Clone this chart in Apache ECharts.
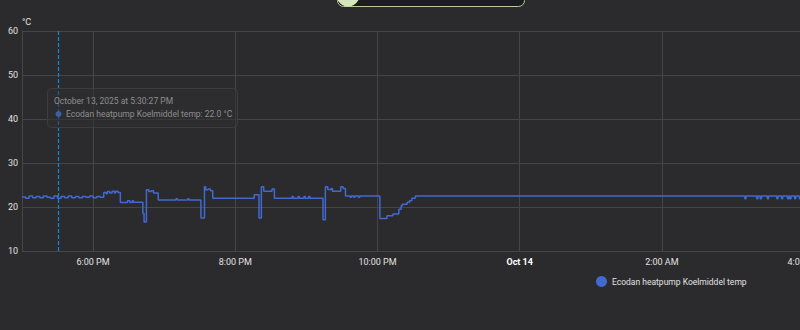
<!DOCTYPE html>
<html>
<head>
<meta charset="utf-8">
<style>
  html, body { margin: 0; padding: 0; background: #2b2b2d; }
  #c { width: 800px; height: 330px; }
</style>
<script src="https://cdn.jsdelivr.net/npm/echarts@6/dist/echarts.min.js"></script>
</head>
<body>
<div id="c"></div>
<script>
// ---- data ----
const seriesName = 'Ecodan heatpump Koelmiddel temp';
const unit = '°C';

const times = [
  '2025-10-13 17:00','2025-10-13 17:03','2025-10-13 17:06','2025-10-13 17:09','2025-10-13 17:12',
  '2025-10-13 17:15','2025-10-13 17:18','2025-10-13 17:21','2025-10-13 17:24','2025-10-13 17:27',
  '2025-10-13 17:30','2025-10-13 17:33','2025-10-13 17:36','2025-10-13 17:39','2025-10-13 17:42',
  '2025-10-13 17:45','2025-10-13 17:48','2025-10-13 17:51','2025-10-13 17:54','2025-10-13 17:57',
  '2025-10-13 18:00','2025-10-13 18:03','2025-10-13 18:06','2025-10-13 18:09','2025-10-13 18:11',
  '2025-10-13 18:12','2025-10-13 18:14','2025-10-13 18:16','2025-10-13 18:18','2025-10-13 18:19',
  '2025-10-13 18:21','2025-10-13 18:23','2025-10-13 18:29','2025-10-13 18:31','2025-10-13 18:33',
  '2025-10-13 18:34','2025-10-13 18:42','2025-10-13 18:43','2025-10-13 18:45','2025-10-13 18:47',
  '2025-10-13 18:49','2025-10-13 18:51','2025-10-13 18:55','2025-10-13 19:10','2025-10-13 19:11',
  '2025-10-13 19:20','2025-10-13 19:21','2025-10-13 19:31','2025-10-13 19:34','2025-10-13 19:35',
  '2025-10-13 19:37','2025-10-13 19:39','2025-10-13 19:41','2025-10-13 20:16','2025-10-13 20:20',
  '2025-10-13 20:22','2025-10-13 20:24','2025-10-13 20:31','2025-10-13 20:33','2025-10-13 20:48',
  '2025-10-13 20:49','2025-10-13 20:53','2025-10-13 20:54','2025-10-13 20:58','2025-10-13 20:59',
  '2025-10-13 21:02','2025-10-13 21:03','2025-10-13 21:14','2025-10-13 21:16','2025-10-13 21:18',
  '2025-10-13 21:21','2025-10-13 21:22','2025-10-13 21:29','2025-10-13 21:31','2025-10-13 21:33',
  '2025-10-13 21:37','2025-10-13 21:38','2025-10-13 21:40','2025-10-13 21:41','2025-10-13 21:44',
  '2025-10-13 21:45','2025-10-13 22:02','2025-10-13 22:08','2025-10-13 22:13','2025-10-13 22:18',
  '2025-10-13 22:20','2025-10-13 22:21','2025-10-13 22:25','2025-10-13 22:27','2025-10-13 22:29',
  '2025-10-13 22:32','2025-10-14 03:10','2025-10-14 03:11','2025-10-14 03:20','2025-10-14 03:21',
  '2025-10-14 03:23','2025-10-14 03:24','2025-10-14 03:29','2025-10-14 03:30','2025-10-14 03:37',
  '2025-10-14 03:38','2025-10-14 03:41','2025-10-14 03:42','2025-10-14 03:46','2025-10-14 03:47',
  '2025-10-14 03:48','2025-10-14 03:49','2025-10-14 03:52','2025-10-14 03:53','2025-10-14 03:56',
  '2025-10-14 03:57','2025-10-14 04:05'
];
const temps = [
  22.3, 22.0, 22.5, 22.1, 22.4,
  22.1, 22.5, 22.2, 22.0, 22.5,
  22.0, 22.4, 22.1, 22.5, 22.1,
  22.4, 22.1, 22.4, 22.2, 22.5,
  22.1, 22.4, 22.2, 23.3, 23.0,
  23.5, 23.2, 23.6, 23.2, 23.6,
  23.3, 21.0, 21.4, 21.0, 21.4,
  21.1, 18.5, 16.6, 23.9, 23.5,
  23.7, 23.2, 21.6, 21.9, 21.6,
  21.9, 21.6, 17.5, 24.6, 23.9,
  24.1, 23.7, 22.0, 22.8, 17.5,
  24.6, 23.6, 24.1, 22.0, 22.4,
  22.0, 22.4, 22.0, 22.4, 22.0,
  22.4, 22.0, 17.1, 24.6, 24.0,
  24.2, 23.6, 24.6, 24.2, 22.5,
  22.2, 22.5, 22.2, 22.5, 22.2,
  22.5, 17.4, 18.0, 18.4, 19.5,
  20.3, 20.6, 21.1, 21.4, 22.0,
  22.5, 21.9, 22.5, 21.9, 22.5,
  21.9, 22.5, 21.9, 22.5, 21.9,
  22.5, 21.9, 22.5, 21.9, 22.5,
  21.9, 22.5, 21.9, 22.5, 21.9,
  22.5, 22.5
];

const xMin = '2025-10-13 17:00';
const xMax = '2025-10-14 04:05';
const xTickHours = [18, 20, 22, 0, 2, 4];
const xTickLabels = ['6:00 PM', '8:00 PM', '10:00 PM', 'Oct 14', '2:00 AM', '4:00 AM'];
const yMin = 10, yMax = 60, yStep = 10;

const hoverTime = '2025-10-13 17:30:27';
const hoverTitle = 'October 13, 2025 at 5:30:27 PM';
const hoverValue = 22.0;

// ---- chart ----
const lineColor = '#4269d0';
const gridColor = '#464648';
const labelColor = '#e2e2e2';
const pointerColor = '#1289d6';
const font = 'Roboto, "Noto Sans", sans-serif';

const data = times.map((t, i) => [t, temps[i]]);

const chart = echarts.init(document.getElementById('c'), null, { renderer: 'svg' });
chart.setOption({
  backgroundColor: '#2b2b2d',
  animation: false,
  textStyle: { fontFamily: font },
  grid: { left: 22, right: -10, top: 31, bottom: 79, containLabel: false, outerBoundsMode: 'none' },
  legend: {
    left: 596, top: 276, padding: 0,
    icon: 'circle', itemWidth: 11, itemHeight: 11, itemGap: 10,
    textStyle: { color: labelColor, fontSize: 8.5, fontFamily: font },
    data: [seriesName]
  },
  xAxis: {
    type: 'time',
    min: xMin, max: xMax,
    splitNumber: 5,
    minInterval: 2.1 * 3600 * 1000,
    maxInterval: 3 * 3600 * 1000,
    axisLine: { show: true, lineStyle: { color: gridColor } },
    axisTick: { show: false },
    splitLine: { show: true, lineStyle: { color: gridColor, width: 1 } },
    axisLabel: {
      color: labelColor, fontSize: 9, margin: 6, hideOverlap: false,
      alignMinLabel: 'center', alignMaxLabel: 'center',
      formatter: function (val) {
        const d = new Date(val);
        if (d.getMinutes() !== 0 || d.getSeconds() !== 0) return '';
        const k = xTickHours.indexOf(d.getHours());
        if (k < 0) return '';
        return k === 3 ? '{b|' + xTickLabels[k] + '}' : xTickLabels[k];
      },
      rich: { b: { fontWeight: 'bold', color: '#ffffff', fontSize: 9, fontFamily: font } }
    }
  },
  yAxis: {
    type: 'value',
    min: yMin, max: yMax, interval: yStep,
    name: unit, nameLocation: 'end', nameGap: 5,
    nameTextStyle: { color: labelColor, fontSize: 9, align: 'left' },
    axisLine: { show: true, lineStyle: { color: gridColor } },
    axisTick: { show: false },
    axisLabel: { color: labelColor, fontSize: 9, margin: 4 },
    splitLine: { show: true, lineStyle: { color: gridColor } }
  },
  series: [{
    type: 'line',
    name: seriesName,
    data: data,
    step: 'end',
    symbol: 'none',
    showSymbol: false,
    lineStyle: { color: lineColor, width: 1.5 },
    itemStyle: { color: lineColor },
    markLine: {
      silent: true,
      symbol: 'none',
      label: { show: false },
      lineStyle: { color: pointerColor, type: [4, 2], width: 1.2, opacity: 1 },
      emphasis: { disabled: true },
      data: [{ xAxis: hoverTime, lineStyle: { color: pointerColor, type: [4, 2], width: 1.2, opacity: 1 } }]
    }
  }],
  graphic: [
    // clipped toolbar element at the top
    { type: 'rect', shape: { x: 337.5, y: -20, width: 187, height: 26.5, r: 6 },
      style: { fill: '#1c1c1e', stroke: '#b9c99d', lineWidth: 1 }, z: 50 },
    { type: 'circle', shape: { cx: 348, cy: -5, r: 11.5 },
      style: { fill: '#d5e8bc' }, z: 51 },
    // faded tooltip
    { type: 'rect', shape: { x: 47.5, y: 88.5, width: 190, height: 39, r: 4 },
      style: { fill: 'rgba(48,48,50,0.55)', stroke: '#3d3d3f', lineWidth: 1 }, z: 100 },
    { type: 'text', x: 54, y: 96,
      style: { text: hoverTitle, fill: '#8d8d8d', font: '8.5px ' + font }, z: 101 },
    { type: 'circle', shape: { cx: 58.5, cy: 114, r: 3 },
      style: { fill: '#3f5ea8' }, z: 101 },
    { type: 'text', x: 66, y: 109,
      style: { text: seriesName + ': ' + hoverValue.toFixed(1) + ' ' + unit, fill: '#8d8d8d', font: '8.5px ' + font }, z: 101 }
  ]
});
</script>
</body>
</html>
